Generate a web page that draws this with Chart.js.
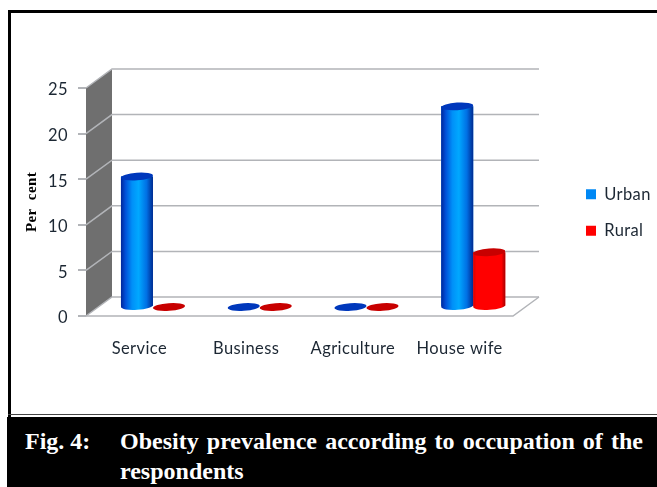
<!DOCTYPE html>
<html>
<head>
<meta charset="utf-8">
<script src="https://cdn.jsdelivr.net/npm/chart.js@4"></script>
<style>
  html, body { margin: 0; padding: 0; background: #fff; width: 657px; height: 487px; overflow: hidden; }
  #chart { position: absolute; left: 0; top: 0; }
  .rule { position: absolute; background: #000; }
  #caption { position: absolute; left: 7px; top: 417px; width: 650px; height: 70px; background: #000; color: #fff;
    font: bold 24px "Liberation Serif", serif; line-height: 30px; }
  #caption span { position: absolute; white-space: nowrap; }
  #line1 { left: 113px; top: 9px; width: 523px; text-align: justify; text-align-last: justify; white-space: normal !important; }
</style>
</head>
<body>
<canvas id="chart" width="657" height="416"></canvas>
<div class="rule" style="left:8px;top:10px;width:649px;height:3px"></div>
<div class="rule" style="left:8px;top:10px;width:3px;height:407px"></div>
<div class="rule" style="left:8px;top:414px;width:649px;height:1px;background:#444"></div>
<div id="caption">
  <span style="left:18px;top:9px">Fig. 4:</span>
  <span id="line1">Obesity prevalence according to occupation of the</span>
  <span style="left:113px;top:39px">respondents</span>
</div>
<script>
const categories = ["Service", "Business", "Agriculture", "House wife"];
const urbanValues = [14.3, 0, 0, 22];
const ruralValues = [0, 0, 0, 6];
const yTicks = [0, 5, 10, 15, 20, 25];

// depth of the fake 3D box, in pixels
const depthX = 26;
const depthY = -19;
const gridColor = "#b2b4b8";
const textColor = "#1c2733";
const labelFont = { family: "Lato", size: 16.5 };

const urbanStyle = {
  stops: [[0, "#00269a"], [0.14, "#0050d8"], [0.35, "#0090f8"], [0.55, "#00a8ff"], [0.8, "#0070e4"], [1, "#002a90"]],
  cap: "#0038bc"
};
const ruralStyle = {
  stops: [[0, "#d80000"], [0.1, "#ff0000"], [0.88, "#ff0000"], [1, "#a80000"]],
  cap: "#c80000"
};

function drawBox(chart) {
  const { ctx, chartArea, scales } = chart;
  const left = chartArea.left;
  const right = chartArea.right;
  const y0 = scales.y.getPixelForValue(0);
  const yTop = scales.y.getPixelForValue(25);

  ctx.save();
  ctx.fillStyle = "#6f6f6f";
  ctx.beginPath();
  ctx.moveTo(left, yTop);
  ctx.lineTo(left + depthX, yTop + depthY);
  ctx.lineTo(left + depthX, y0 + depthY);
  ctx.lineTo(left, y0);
  ctx.closePath();
  ctx.fill();

  ctx.strokeStyle = gridColor;
  ctx.lineWidth = 1.5;
  yTicks.forEach(v => {
    const y = scales.y.getPixelForValue(v);
    ctx.beginPath();
    ctx.moveTo(left, y);
    ctx.lineTo(left + depthX, y + depthY);
    ctx.lineTo(right + depthX, y + depthY);
    ctx.stroke();
  });

  // floor edges
  ctx.beginPath();
  ctx.moveTo(left, y0);
  ctx.lineTo(right, y0);
  ctx.lineTo(right + depthX, y0 + depthY);
  ctx.stroke();
  ctx.restore();
}

function drawCylinder(ctx, bar, style) {
  const rx = bar.width / 2;
  const ry = 3.8;
  const tilt = -0.07;
  const x = bar.x;
  const top = bar.y;
  const base = bar.base;

  if (base - top > 0.5) {
    const grad = ctx.createLinearGradient(x - rx, 0, x + rx, 0);
    style.stops.forEach(s => grad.addColorStop(s[0], s[1]));
    ctx.fillStyle = grad;
    ctx.beginPath();
    ctx.moveTo(x - rx, top);
    ctx.lineTo(x + rx, top);
    ctx.ellipse(x, base, rx, ry, tilt, 0, Math.PI);
    ctx.closePath();
    ctx.fill();
  }

  ctx.fillStyle = style.cap;
  ctx.beginPath();
  ctx.ellipse(x, top, rx, ry, tilt, 0, Math.PI * 2);
  ctx.fill();
}

const boxPlugin = {
  id: "box3d",
  afterLayout(chart) {
    // legend sits out in the right margin, clear of the floor
    const legend = chart.legend;
    legend.left = 566;
    legend.right = 657;
    legend.top = 166;
    legend.bottom = 260;
  },
  beforeDraw(chart) {
    // the axis font needs a little tracking
    chart.ctx.letterSpacing = "0.4px";
  },
  beforeDatasetsDraw(chart) {
    drawBox(chart);
    chart.ctx.save();
    chart.ctx.translate(depthX / 2 + 0.6, depthY / 2 + 0.5);
  },
  afterDatasetsDraw(chart) {
    const styles = [urbanStyle, ruralStyle];
    chart.data.datasets.forEach((ds, i) => {
      chart.getDatasetMeta(i).data.forEach(bar => drawCylinder(chart.ctx, bar, styles[i]));
    });
    chart.ctx.restore();
  }
};

new Chart(document.getElementById("chart").getContext("2d"), {
  type: "bar",
  data: {
    labels: categories,
    datasets: [
      { label: "Urban", data: urbanValues, backgroundColor: "#0088f4", borderWidth: 0, clip: false },
      { label: "Rural", data: ruralValues, backgroundColor: "#ff0000", borderWidth: 0, clip: false }
    ]
  },
  options: {
    responsive: false,
    animation: false,
    categoryPercentage: 0.6,
    barPercentage: 1,
    layout: { padding: { top: 88, right: 144, bottom: 0, left: 0 } },
    scales: {
      x: {
        grid: { display: false },
        border: { display: false },
        ticks: { color: textColor, font: labelFont, padding: 15, maxRotation: 0 },
        afterFit(scale) { scale.height = 100; }
      },
      y: {
        min: 0,
        max: 25,
        grid: { drawOnChartArea: false, drawTicks: true, tickLength: 8, color: gridColor, lineWidth: 2 },
        border: { display: false },
        ticks: { stepSize: 5, color: textColor, font: labelFont, padding: 10, labelOffset: 2 },
        title: {
          display: true,
          text: "Per  cent",
          color: "#000",
          font: { family: "Liberation Serif", weight: "bold", size: 15 },
          padding: { top: 23, bottom: 0 }
        },
        afterFit(scale) { scale.width = 86; }
      }
    },
    plugins: {
      legend: {
        position: "chartArea",
        align: "start",
        labels: { boxWidth: 10, boxHeight: 10, padding: 20, color: textColor, font: labelFont }
      },
      tooltip: { enabled: false }
    }
  },
  plugins: [boxPlugin]
});
</script>
</body>
</html>
